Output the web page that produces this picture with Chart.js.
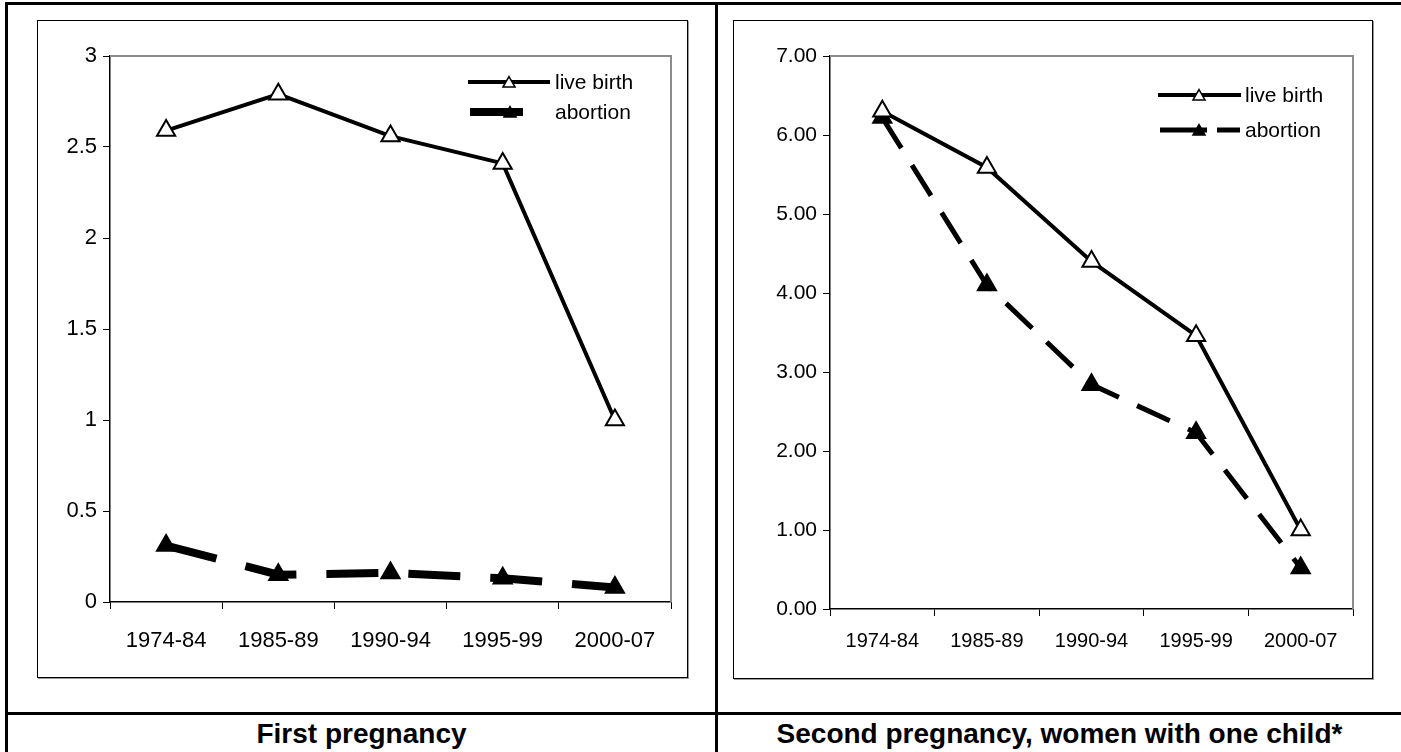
<!DOCTYPE html>
<html>
<head>
<meta charset="utf-8">
<script src="https://cdn.jsdelivr.net/npm/chart.js@4.4.1/dist/chart.umd.min.js"></script>
<style>
  html, body { margin: 0; padding: 0; background: #fff; }
  body { width: 1401px; height: 752px; position: relative; overflow: hidden;
         font-family: "Liberation Sans", Arial, sans-serif; }
  .rule { position: absolute; background: #000; }
  .box { position: absolute; border: 1px solid #000; box-shadow: 1px 1px 0 #9a9a9a; background: #fff; }
  .box canvas { position: absolute; left: 0; top: 0; }
  .cap { position: absolute; top: 715px; height: 37px; line-height: 37px; text-align: center;
         font-weight: bold; font-size: 28px; color: #000; }
</style>
</head>
<body>
<!-- table rules -->
<div class="rule" style="left:5px;top:2px;width:1396px;height:3px"></div>
<div class="rule" style="left:5px;top:2px;width:3px;height:750px"></div>
<div class="rule" style="left:715px;top:2px;width:3px;height:750px"></div>
<div class="rule" style="left:5px;top:712px;width:1396px;height:3px"></div>

<div class="box" style="left:37px;top:20px;width:649px;height:656px">
  <canvas id="firstChart" width="649" height="656"></canvas>
</div>
<div class="box" style="left:733px;top:20px;width:638px;height:657px">
  <canvas id="secondChart" width="638" height="657"></canvas>
</div>

<div class="cap" style="left:8px;width:707px">First pregnancy</div>
<div class="cap" style="left:718px;width:683px">Second pregnancy, women with one child*</div>

<script>
// Periods on the x axis
const periods = ['1974-84', '1985-89', '1990-94', '1995-99', '2000-07'];
const seriesNames = ['live birth', 'abortion'];

// First pregnancy
const firstLiveBirth = [2.59, 2.79, 2.56, 2.41, 1.00];
const firstAbortion  = [0.31, 0.15, 0.16, 0.13, 0.08];
const firstYTicks    = ['0', '0.5', '1', '1.5', '2', '2.5', '3'];

// Second pregnancy, women with one child
const secondLiveBirth = [6.30, 5.59, 4.40, 3.46, 1.00];
const secondAbortion  = [6.22, 4.10, 2.84, 2.23, 0.52];
const secondYTicks    = ['0.00', '1.00', '2.00', '3.00', '4.00', '5.00', '6.00', '7.00'];

const FONT = '"Liberation Sans", Arial, sans-serif';

function drawTriangle(ctx, x, y, r, fill, lw) {
  ctx.save();
  ctx.beginPath();
  let a = 0;
  ctx.moveTo(x + Math.sin(a) * r, y - Math.cos(a) * r);
  a += 2 * Math.PI / 3;
  ctx.lineTo(x + Math.sin(a) * r, y - Math.cos(a) * r);
  a += 2 * Math.PI / 3;
  ctx.lineTo(x + Math.sin(a) * r, y - Math.cos(a) * r);
  ctx.closePath();
  ctx.fillStyle = fill;
  ctx.fill();
  ctx.lineWidth = lw;
  ctx.strokeStyle = '#000';
  ctx.setLineDash([]);
  ctx.stroke();
  ctx.restore();
}

// gray top/right edges of the plot area
const plotFrame = {
  id: 'plotFrame',
  beforeDatasetsDraw(chart) {
    const { ctx, chartArea: a } = chart;
    ctx.save();
    ctx.strokeStyle = '#8c8c8c';
    ctx.lineWidth = 2;
    ctx.beginPath();
    ctx.moveTo(a.left, a.top);
    ctx.lineTo(a.right, a.top);
    ctx.lineTo(a.right, a.bottom);
    ctx.stroke();
    ctx.restore();
  }
};

// legend drawn inside the plot area
const inlineLegend = {
  id: 'inlineLegend',
  afterDatasetsDraw(chart, args, opts) {
    const ctx = chart.ctx;
    (opts.items || []).forEach((it, i) => {
      const ds = chart.data.datasets[i];
      ctx.save();
      ctx.strokeStyle = '#000';
      ctx.lineWidth = ds.borderWidth;
      ctx.lineCap = 'butt';
      ctx.setLineDash(it.dash || []);
      ctx.beginPath();
      ctx.moveTo(it.x0, it.y);
      ctx.lineTo(it.x1, it.y);
      ctx.stroke();
      ctx.restore();
      drawTriangle(ctx, it.mx, it.y + 1.5, opts.markerRadius, ds.pointBackgroundColor, 1.5);
      ctx.save();
      ctx.fillStyle = '#000';
      ctx.font = opts.fontSize + 'px ' + FONT;
      ctx.textBaseline = 'middle';
      ctx.textAlign = 'left';
      ctx.fillText(ds.label, it.tx, it.y + 1);
      ctx.restore();
    });
  }
};

function makeChart(id, cfg) {
  return new Chart(document.getElementById(id), {
    type: 'line',
    data: {
      labels: periods,
      datasets: [
        {
          label: seriesNames[0],
          data: cfg.live,
          borderColor: '#000',
          borderWidth: 4,
          pointStyle: 'triangle',
          pointRadius: 10.5,
          pointBorderWidth: 2,
          pointBorderColor: '#000',
          pointBackgroundColor: '#fff',
          tension: 0,
          fill: false
        },
        {
          label: seriesNames[1],
          data: cfg.abort,
          borderColor: '#000',
          borderWidth: cfg.abortWidth,
          borderDash: cfg.abortDash,
          borderCapStyle: 'butt',
          pointStyle: 'triangle',
          pointRadius: 10.5,
          pointBorderWidth: 2,
          pointBorderColor: '#000',
          pointBackgroundColor: '#000',
          tension: 0,
          fill: false
        }
      ]
    },
    options: {
      responsive: false,
      animation: false,
      devicePixelRatio: 1,
      layout: { padding: cfg.padding },
      plugins: {
        legend: { display: false },
        tooltip: { enabled: false },
        inlineLegend: { items: cfg.legend, fontSize: cfg.legendFont, markerRadius: 7 }
      },
      scales: {
        x: {
          offset: true,
          grid: { offset: true, drawOnChartArea: false, drawTicks: true, tickLength: 7, color: '#000', lineWidth: 1 },
          border: { color: '#000', width: 1.5 },
          ticks: { color: '#000', font: { family: FONT, size: cfg.xFont }, padding: cfg.xPad, maxRotation: 0, autoSkip: false },
          afterFit(s) { s.height = cfg.xHeight; }
        },
        y: {
          min: 0,
          max: cfg.yMax,
          grid: { drawOnChartArea: false, drawTicks: true, tickLength: 7, color: '#000', lineWidth: 1 },
          border: { color: '#000', width: 1.5 },
          ticks: {
            stepSize: cfg.yStep,
            color: '#000',
            font: { family: FONT, size: cfg.yFont },
            padding: 6,
            callback: (v, i) => cfg.yTicks[i]
          },
          afterFit(s) { s.width = cfg.yWidth; }
        }
      }
    },
    plugins: [plotFrame, inlineLegend]
  });
}

makeChart('firstChart', {
  live: firstLiveBirth,
  abort: firstAbortion,
  abortWidth: 8,
  abortDash: [52, 30],
  yMax: 3, yStep: 0.5, yTicks: firstYTicks,
  padding: { left: 0, top: 35, right: 16, bottom: 0 },
  yWidth: 72, xHeight: 75,
  xFont: 22, yFont: 22, xPad: 19,
  legendFont: 21,
  legend: [
    { x0: 430, x1: 512, y: 61, mx: 471, tx: 517 },
    { x0: 432, x1: 512, y: 91, mx: 472, tx: 517, dash: [53, 27] }
  ]
});

makeChart('secondChart', {
  live: secondLiveBirth,
  abort: secondAbortion,
  abortWidth: 5,
  abortDash: [36, 20],
  yMax: 7, yStep: 1, yTicks: secondYTicks,
  padding: { left: 0, top: 35, right: 19, bottom: 0 },
  yWidth: 96, xHeight: 69,
  xFont: 20, yFont: 21, xPad: 13,
  legendFont: 21,
  legend: [
    { x0: 424, x1: 507, y: 74, mx: 465, tx: 511 },
    { x0: 426, x1: 506, y: 109, mx: 465, tx: 511, dash: [47, 10] }
  ]
});
</script>
</body>
</html>
